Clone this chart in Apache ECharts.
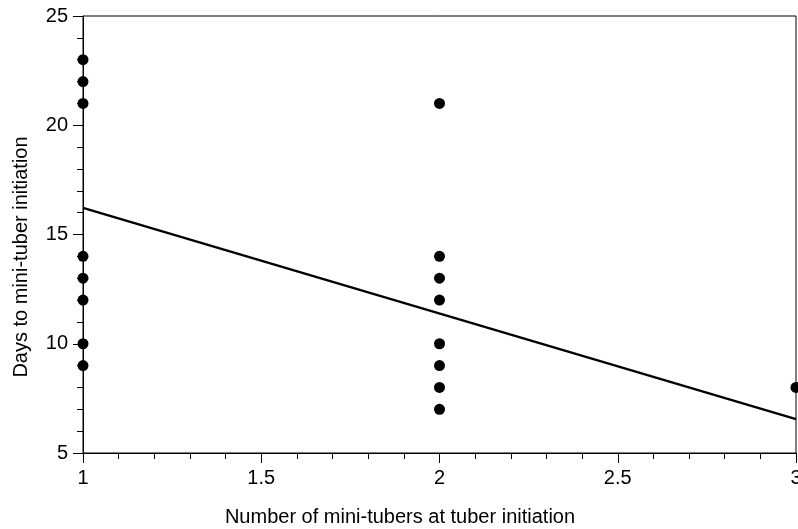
<!DOCTYPE html>
<html>
<head>
<meta charset="utf-8">
<script src="https://cdn.jsdelivr.net/npm/echarts@6/dist/echarts.min.js"></script>
<style>html,body{margin:0;padding:0;background:#fff}#c{width:798px;height:529px}</style>
</head>
<body>
<div id="c"></div>
<script>
const xTitle = 'Number of mini-tubers at tuber initiation';
const yTitle = 'Days to mini-tuber initiation';
const tubers = [1,1,1,1,1,1,1,1, 2,2,2,2,2,2,2,2, 3];
const days   = [23,22,21,14,13,12,10,9, 21,14,13,12,10,9,8,7, 8];
const fitX = [1, 3];
const fitY = [16.22, 6.55];

const chart = echarts.init(document.getElementById('c'));
const font = 'Liberation Sans, Arial, sans-serif';
chart.setOption({
  animation: false,
  backgroundColor: '#fff',
  grid: {left: 83, right: 2, top: 16, bottom: 76, containLabel: false, outerBoundsMode: 'none', show: true, borderColor: '#000', borderWidth: 1, backgroundColor: 'transparent'},
  xAxis: {
    type: 'value', min: 1, max: 3, interval: 0.5,
    axisLine: {lineStyle: {color: '#000', width: 1}},
    axisTick: {show: true, length: 10, lineStyle: {color: '#000'}},
    minorTick: {show: true, splitNumber: 5, length: 6, lineStyle: {color: '#000'}},
    axisLabel: {color: '#000', fontSize: 20, fontFamily: font, margin: 15, showMaxLabel: true},
    splitLine: {show: false}
  },
  yAxis: {
    type: 'value', min: 5, max: 25, interval: 5,
    axisLine: {show: true, lineStyle: {color: '#000', width: 1}},
    axisTick: {show: true, length: 10, lineStyle: {color: '#000'}},
    minorTick: {show: true, splitNumber: 5, length: 6, lineStyle: {color: '#000'}},
    axisLabel: {color: '#000', fontSize: 20, fontFamily: font, margin: 15},
    splitLine: {show: false}
  },
  graphic: [{
    type: 'text', rotation: Math.PI / 2,
    style: {text: yTitle, fill: '#000', fontSize: 20, fontFamily: font, textAlign: 'center', textVerticalAlign: 'middle'},
    position: [21, 257]
  }, {
    type: 'text',
    style: {text: xTitle, fill: '#000', fontSize: 20, fontFamily: font, textAlign: 'center', textVerticalAlign: 'middle'},
    position: [400, 517]
  }],
  series: [
    {type: 'line', data: fitX.map((x, i) => [x, fitY[i]]), showSymbol: false, lineStyle: {color: '#000', width: 2.2}, z: 2},
    {type: 'scatter', data: tubers.map((x, i) => [x, days[i]]), symbol: 'circle', symbolSize: 11, itemStyle: {color: '#000', opacity: 1}, z: 3}
  ]
});
</script>
</body>
</html>
